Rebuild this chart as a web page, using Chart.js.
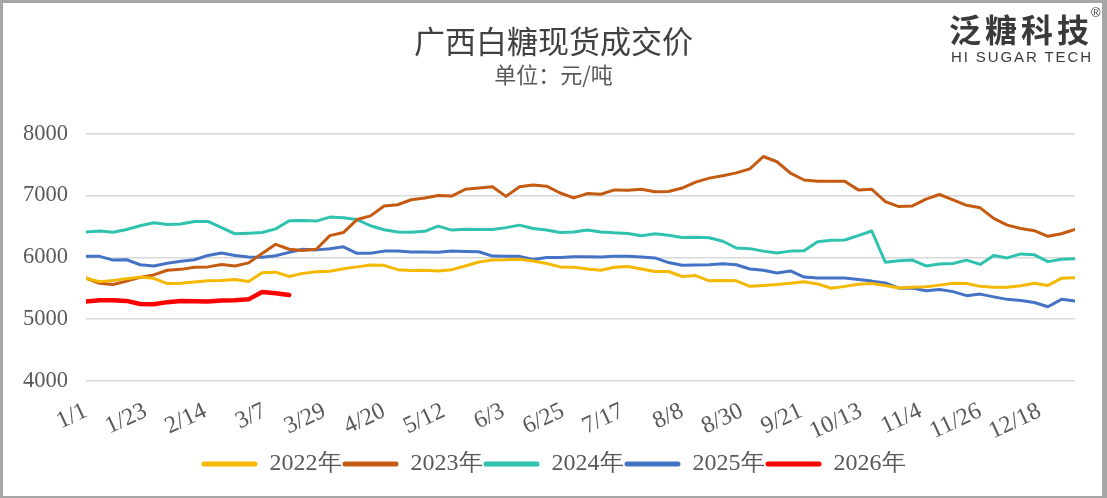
<!DOCTYPE html>
<html>
<head>
<meta charset="utf-8">
<script src="https://cdn.jsdelivr.net/npm/chart.js@4/dist/chart.umd.min.js"></script>
<style>
body { margin: 0; background: #fff; }
#wrap { position: relative; width: 1107px; height: 498px; overflow: hidden; background: #fff; }
#chart { position: absolute; left: 0; top: 0; }
#frame { position: absolute; left: 0; top: 0; width: 1107px; height: 498px; box-sizing: border-box;
         border-style: solid; border-color: #a6a6a6; border-width: 3px 5px 2px 3px; pointer-events: none; }
#logoCn { position: absolute; left: 949px; top: 8px; font-family: "Noto Sans CJK SC"; font-weight: bold;
          font-size: 32px; letter-spacing: 4px; color: #3a3a3a; line-height: 40px; }
#logoEn { position: absolute; left: 951px; top: 48px; font-family: "Liberation Sans", Arial; font-size: 15px;
          letter-spacing: 1.9px; color: #3a3a3a; line-height: 18px; }
#logoR { position: absolute; left: 1091px; top: 5px; font-family: "Liberation Sans", Arial; font-size: 13px; color: #3a3a3a; }
</style>
</head>
<body>
<div id="wrap">
    <canvas id="chart" width="1107" height="498"></canvas>
    <div id="logoCn">泛糖科技</div>
    <div id="logoEn">HI SUGAR TECH</div>
    <div id="logoR">®</div>
    <div id="frame"></div>
</div>
<script>
// day of year (leap-year calendar, 0 = 1/1), sampled every 5 days
var days = [0, 5, 10, 15, 20, 25, 30, 35, 40, 45, 50, 55, 60, 65, 70, 75, 80, 85, 90, 95,
    100, 105, 110, 115, 120, 125, 130, 135, 140, 145, 150, 155, 160, 165, 170, 175, 180, 185, 190, 195,
    200, 205, 210, 215, 220, 225, 230, 235, 240, 245, 250, 255, 260, 265, 270, 275, 280, 285, 290, 295,
    300, 305, 310, 315, 320, 325, 330, 335, 340, 345, 350, 355, 360, 365];

var price2022 = [5660, 5605, 5625, 5655, 5680, 5660, 5575, 5580, 5600, 5620, 5625, 5640, 5610, 5750, 5760, 5690, 5740, 5765, 5775, 5815,
    5845, 5875, 5870, 5800, 5785, 5790, 5780, 5800, 5860, 5925, 5955, 5960, 5970, 5940, 5900, 5845, 5840, 5810, 5790, 5840,
    5850, 5810, 5770, 5770, 5690, 5705, 5620, 5625, 5620, 5530, 5545, 5560, 5580, 5605, 5570, 5500, 5530, 5565, 5575, 5545,
    5505, 5515, 5525, 5550, 5580, 5575, 5530, 5515, 5515, 5540, 5580, 5545, 5660, 5670];
var price2023 = [5665, 5580, 5560, 5615, 5675, 5715, 5790, 5805, 5840, 5845, 5885, 5860, 5910, 6060, 6210, 6130, 6110, 6130, 6350, 6400,
    6610, 6670, 6830, 6850, 6930, 6960, 7000, 6990, 7100, 7120, 7140, 6985, 7140, 7170, 7150, 7040, 6960, 7030, 7020, 7090,
    7085, 7100, 7060, 7065, 7120, 7215, 7280, 7320, 7365, 7430, 7630, 7545, 7360, 7250, 7230, 7230, 7230, 7090, 7100, 6900,
    6820, 6830, 6940, 7015, 6930, 6840, 6800, 6630, 6520, 6465, 6430, 6340, 6380, 6450];
var price2024 = [6410, 6425, 6405, 6450, 6510, 6560, 6530, 6540, 6580, 6580, 6480, 6380, 6390, 6400, 6460, 6590, 6595, 6585, 6650, 6640,
    6610, 6510, 6445, 6410, 6405, 6420, 6505, 6440, 6455, 6450, 6450, 6480, 6520, 6465, 6440, 6400, 6410, 6440, 6410, 6395,
    6385, 6350, 6380, 6355, 6320, 6325, 6315, 6260, 6150, 6140, 6100, 6070, 6100, 6105, 6250, 6275, 6280, 6350, 6425, 5920,
    5945, 5955, 5860, 5890, 5900, 5955, 5885, 6030, 5990, 6055, 6040, 5930, 5970, 5975];
var price2025 = [6015, 6015, 5955, 5960, 5880, 5860, 5905, 5935, 5960, 6030, 6070, 6030, 6005, 6000, 6025, 6080, 6130, 6120, 6140, 6170,
    6065, 6065, 6100, 6100, 6085, 6085, 6080, 6100, 6095, 6090, 6020, 6015, 6015, 5965, 5995, 5995, 6010, 6010, 6005, 6015,
    6015, 6005, 5990, 5915, 5870, 5875, 5880, 5895, 5880, 5810, 5790, 5745, 5780, 5680, 5665, 5665, 5665, 5640, 5615, 5585,
    5500, 5505, 5460, 5480, 5445, 5380, 5405, 5360, 5320, 5300, 5270, 5200, 5320, 5295];
var price2026 = [5285, 5305, 5305, 5295, 5245, 5240, 5275, 5295, 5290, 5285, 5300, 5305, 5320, 5440, 5420, 5390];

var seriesNames = ['2022年', '2023年', '2024年', '2025年', '2026年'];
var seriesColors = ['#F5B800', '#C55A11', '#2EC2AF', '#4472C4', '#FF0000'];
var yTicks = [4000, 5000, 6000, 7000, 8000];
// x tick positions (days): 1/1, 1/23, 2/14 ... 12/18
var xTickDays = [0, 22, 44, 66, 88, 110, 132, 154, 176, 198, 220, 242, 264, 286, 308, 330, 352];

var serif = '"Liberation Serif", "Times New Roman", serif';

function toPoints(values) {
    return values.map(function (v, i) { return { x: days[i], y: v }; });
}

function dayLabel(v) {
    var d = new Date(2024, 0, 1 + Math.round(v));
    return (d.getMonth() + 1) + '/' + d.getDate();
}

var allPrices = [price2022, price2023, price2024, price2025, price2026];
var datasets = allPrices.map(function (vals, i) {
    return {
        label: seriesNames[i],
        data: toPoints(vals),
        borderColor: seriesColors[i],
        backgroundColor: seriesColors[i],
        borderWidth: i === 4 ? 4.5 : 3,
        pointRadius: 0,
        tension: 0,
        borderJoinStyle: 'round',
        borderCapStyle: 'round'
    };
});

var ctx = document.getElementById('chart').getContext('2d');
var priceChart = new Chart(ctx, {
    type: 'line',
    data: { datasets: datasets },
    options: {
        responsive: false,
        animation: false,
        layout: { padding: { left: 0, right: 0, top: 0, bottom: 12 } },
        plugins: {
            title: {
                display: true,
                text: '广西白糖现货成交价',
                color: '#404040',
                font: { family: '"Noto Sans CJK SC"', size: 31, weight: 'normal' },
                padding: { top: 23, bottom: 1 }
            },
            subtitle: {
                display: true,
                text: '单位：元/吨',
                color: '#595959',
                font: { family: '"Noto Sans CJK SC"', size: 22, weight: 'normal' },
                padding: { top: 0, bottom: 46 }
            },
            legend: {
                position: 'bottom',
                labels: {
                    color: '#595959',
                    font: { family: serif, size: 24 },
                    boxWidth: 56,
                    boxHeight: 5,
                    padding: 1,
                    useBorderRadius: true,
                    borderRadius: 2.5,
                    generateLabels: function (chart) {
                        var items = Chart.defaults.plugins.legend.labels.generateLabels(chart);
                        items.forEach(function (it) { it.lineWidth = 0; });
                        return items;
                    }
                }
            },
            tooltip: { enabled: false }
        },
        scales: {
            x: {
                type: 'linear',
                min: 0,
                max: 365,
                grid: { display: false },
                border: { display: false },
                afterBuildTicks: function (scale) {
                    scale.ticks = xTickDays.map(function (v) { return { value: v }; });
                },
                afterFit: function (scale) { scale.height = 70; },
                ticks: {
                    autoSkip: false,
                    minRotation: 25,
                    maxRotation: 25,
                    padding: 8,
                    color: '#595959',
                    font: { family: serif, size: 24 },
                    callback: function (v) { return dayLabel(v); }
                }
            },
            y: {
                min: 4000,
                max: 8000,
                afterBuildTicks: function (scale) {
                    scale.ticks = yTicks.map(function (v) { return { value: v }; });
                },
                afterFit: function (scale) { scale.width = 86; },
                grid: { color: '#d9d9d9', lineWidth: 1.5, drawTicks: false },
                border: { display: false },
                ticks: {
                    padding: 18,
                    color: '#595959',
                    font: { family: serif, size: 22.5 },
                    callback: function (v) { return String(v); }
                }
            },
            // empty right-hand axis: keeps the plot off the right edge so the title and legend stay centred
            yRight: {
                position: 'right',
                min: 4000,
                max: 8000,
                grid: { display: false },
                border: { display: false },
                ticks: { display: false },
                afterFit: function (scale) { scale.width = 32; }
            }
        }
    }
});
</script>
</body>
</html>
